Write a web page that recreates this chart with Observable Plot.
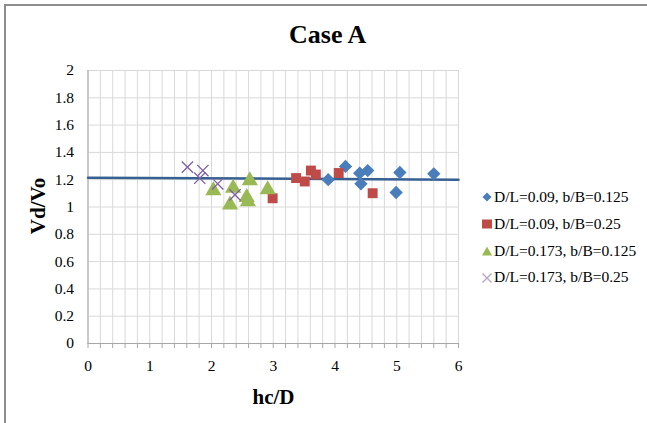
<!DOCTYPE html>
<html>
<head>
<meta charset="utf-8">
<script src="https://cdn.jsdelivr.net/npm/d3@7"></script>
<script src="https://cdn.jsdelivr.net/npm/@observablehq/plot@0.6"></script>
<style>
  html, body { margin: 0; padding: 0; background: #fff; }
  #wrap { position: relative; width: 647px; height: 423px; overflow: hidden; font-family: "Liberation Serif", "Times New Roman", serif; }
  #frame { position: absolute; left: 4px; top: 4px; width: 660px; height: 440px; border-left: 2px solid #8c8c8c; border-top: 2px solid #8c8c8c; box-sizing: border-box; }
  .lbl { position: absolute; font-weight: bold; line-height: 1; white-space: nowrap; }
  #title { left: 289px; top: 21.5px; font-size: 26px; }
  #xlab { left: 252.5px; top: 386.5px; font-size: 21px; }
  #ylab { left: 38px; top: 206px; font-size: 21px; transform: translate(-50%, -50%) rotate(-90deg); }
  #legend { position: absolute; left: 481px; top: 184px; font-size: 15.5px; line-height: 26.8px; }
  #legend div { display: flex; align-items: center; white-space: nowrap; }
  #legend svg { width: 12px; height: 12px; margin-right: 1px; }
  #plot { position: absolute; left: 0; top: 0; }
  #plot svg text { font-family: "Liberation Serif", "Times New Roman", serif !important; font-size: 15.5px; }
</style>
</head>
<body>
<div id="wrap">
  <div id="frame"></div>
  <div id="plot"></div>
  <div id="title" class="lbl">Case A</div>
  <div id="ylab" class="lbl">Vd/Vo</div>
  <div id="xlab" class="lbl">hc/D</div>
  <div id="legend"></div>
</div>
<script>
const seriesNames = ["D/L=0.09, b/B=0.125", "D/L=0.09, b/B=0.25", "D/L=0.173, b/B=0.125", "D/L=0.173, b/B=0.25"];
const seriesColors = ["#4a7ebb", "#be4b48", "#98b954", "#7d60a0"];
const seriesSymbols = ["diamond2", "square", "triangle", "times"];

const s1x = [3.89, 4.17, 4.40, 4.42, 4.53, 5.05, 4.99, 5.60];
const s1y = [1.20, 1.297, 1.248, 1.17, 1.267, 1.253, 1.106, 1.243];
const s2x = [3.37, 3.51, 3.61, 3.69, 4.06, 4.61, 2.99];
const s2y = [1.212, 1.187, 1.267, 1.238, 1.249, 1.101, 1.064];
const s3x = [2.03, 2.35, 2.30, 2.62, 2.57, 2.59, 2.91];
const s3y = [1.121, 1.138, 1.016, 1.194, 1.07, 1.04, 1.128];
const s4x = [1.61, 1.86, 1.81, 2.10, 2.38];
const s4y = [1.292, 1.267, 1.211, 1.17, 1.089];

const trendX = [0, 6];
const trendY = [1.215, 1.200];

const xTicks = [0, 1, 2, 3, 4, 5, 6];
const yTicks = [0, 0.2, 0.4, 0.6, 0.8, 1, 1.2, 1.4, 1.6, 1.8, 2];
const gridStep = 0.2;

const xs = [s1x, s2x, s3x, s4x], ys = [s1y, s2y, s3y, s4y];
const pts = [];
xs.forEach((arr, i) => arr.forEach((x, j) => pts.push({x, y: ys[i][j], s: i})));
const trend = trendX.map((x, i) => ({x, y: trendY[i]}));
const xGrid = d3.range(0, 30 + 1).map(k => +(k * gridStep).toFixed(1));
const yGrid = d3.range(0, 10 + 1).map(k => +(k * gridStep).toFixed(1));

const sizeBy = [6, 5.6, 6, 5.2];
const marks = [
  Plot.ruleX(xGrid, {stroke: "#d9d9d9", strokeWidth: 1}),
  Plot.ruleY(yGrid, {stroke: "#d9d9d9", strokeWidth: 1}),
  Plot.ruleY([0], {stroke: "#a6a6a6", strokeWidth: 1}),
  Plot.ruleX([0], {stroke: "#a6a6a6", strokeWidth: 1}),
  Plot.axisX({ticks: xGrid, tickSize: 5, stroke: "#a6a6a6", tickPadding: 11, label: null,
    tickFormat: d => xTicks.includes(d) ? String(d) : ""}),
  Plot.axisY({ticks: yTicks, tickSize: 0, tickPadding: 14, label: null, tickFormat: d => String(d)}),
  Plot.line(trend, {x: "x", y: "y", stroke: "#376092", strokeWidth: 2.5})
];
for (let i = 0; i < 4; i++) {
  const d = pts.filter(p => p.s === i);
  if (i === 3) {
    marks.push(Plot.dot(d, {x: "x", y: "y", symbol: "times", r: sizeBy[i], stroke: seriesColors[i], strokeWidth: 1.3}));
  } else {
    marks.push(Plot.dot(d, {x: "x", y: "y", symbol: seriesSymbols[i], r: sizeBy[i], fill: seriesColors[i], stroke: "none"}));
  }
}

const chart = Plot.plot({
  width: 647, height: 423,
  marginLeft: 87.5, marginRight: 189, marginTop: 70, marginBottom: 80,
  x: {type: "linear", domain: [0, 6]},
  y: {type: "linear", domain: [0, 2]},
  style: {fontFamily: '"Liberation Serif", "Times New Roman", serif', background: "transparent", color: "#000"},
  marks
});
document.getElementById("plot").appendChild(chart);

// legend
const legend = document.getElementById("legend");
const symPaths = [
  '<path d="M6,1.5L10.5,6L6,10.5L1.5,6Z" fill="' + seriesColors[0] + '"/>',
  '<rect x="1" y="1.5" width="10" height="9" fill="' + seriesColors[1] + '"/>',
  '<path d="M6,1.5L11,10.5L1,10.5Z" fill="' + seriesColors[2] + '"/>',
  '<path d="M1.5,1.5L10.5,10.5M10.5,1.5L1.5,10.5" stroke="#b3a2c7" stroke-width="1.2"/>'
];
seriesNames.forEach((n, i) => {
  const row = document.createElement("div");
  row.innerHTML = '<svg viewBox="0 0 12 12">' + symPaths[i] + '</svg><span>' + n + '</span>';
  legend.appendChild(row);
});
</script>
</body>
</html>
